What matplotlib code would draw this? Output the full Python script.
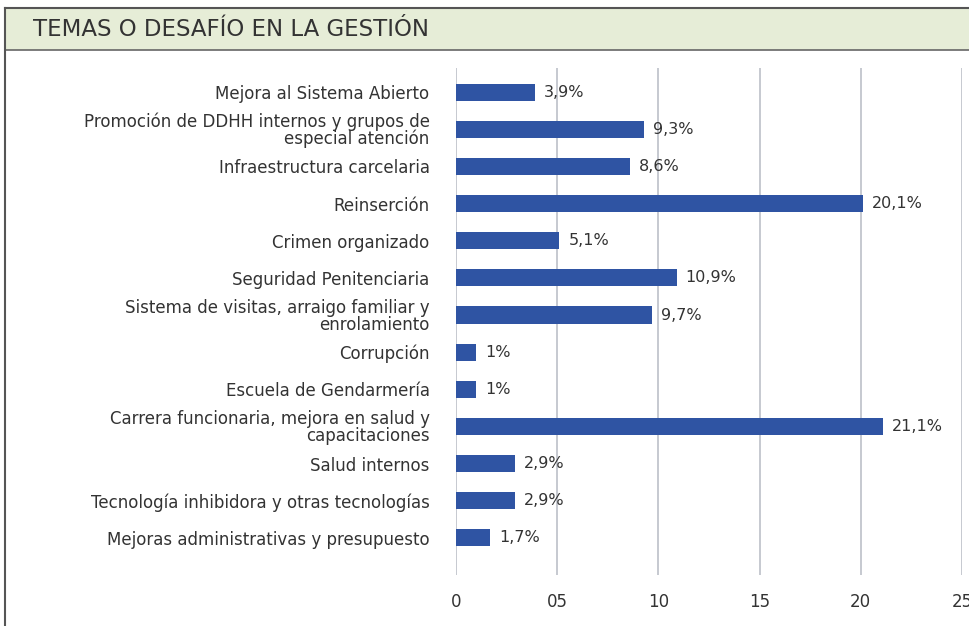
import matplotlib.pyplot as plt
from matplotlib.patches import Rectangle
from matplotlib.lines import Line2D

plt.rcParams['font.family'] = ['DejaVu Sans']

# Datos del gráfico
temas = [
    "Mejora al Sistema Abierto",
    "Promoción de DDHH internos y grupos de\nespecial atención",
    "Infraestructura carcelaria",
    "Reinserción",
    "Crimen organizado",
    "Seguridad Penitenciaria",
    "Sistema de visitas, arraigo familiar y\nenrolamiento",
    "Corrupción",
    "Escuela de Gendarmería",
    "Carrera funcionaria, mejora en salud y\ncapacitaciones",
    "Salud internos",
    "Tecnología inhibidora y otras tecnologías",
    "Mejoras administrativas y presupuesto",
]
valores = [3.9, 9.3, 8.6, 20.1, 5.1, 10.9, 9.7, 1, 1, 21.1, 2.9, 2.9, 1.7]
etiquetas = ["3,9%", "9,3%", "8,6%", "20,1%", "5,1%", "10,9%", "9,7%",
             "1%", "1%", "21,1%", "2,9%", "2,9%", "1,7%"]
xticks = [0, 5, 10, 15, 20, 25]
xtick_labels = ["0", "05", "10", "15", "20", "25"]

TEXT = '#333333'
BAR = '#2f54a3'

fig = plt.figure(figsize=(9.69, 6.26), dpi=100)

# Banda del título
fig.patches.append(Rectangle((5 / 969, 1 - 50 / 626), 1, 42 / 626,
                             transform=fig.transFigure, facecolor='#e6edd7',
                             edgecolor='none', zorder=0))
fig.lines.append(Line2D([5 / 969, 1], [1 - 8 / 626] * 2, transform=fig.transFigure,
                        color='#555555', lw=1.5))
fig.lines.append(Line2D([5 / 969, 1], [1 - 50 / 626] * 2, transform=fig.transFigure,
                        color='#666666', lw=1.2))
fig.lines.append(Line2D([5 / 969] * 2, [0, 1 - 8 / 626], transform=fig.transFigure,
                        color='#555555', lw=1.5))
fig.text(33 / 969, 1 - 30 / 626, "TEMAS O DESAFÍO EN LA GESTIÓN", fontsize=16.5,
         color=TEXT, va='center', ha='left')

ax = fig.add_axes([456 / 969, 1 - 575 / 626, 506 / 969, 507 / 626])
ys = list(range(len(temas)))
ax.barh(ys, valores, height=0.46, color=BAR, zorder=3)
for y, v, t in zip(ys, valores, etiquetas):
    ax.text(v + 0.45, y, t, va='center', ha='left', fontsize=11.5, color=TEXT, zorder=4)

ax.set_xlim(0, 25)
ax.set_ylim(13.0, -0.65)
ax.set_yticks(ys)
ax.set_yticklabels(temas, fontsize=12, color=TEXT, linespacing=0.9)
ax.set_xticks(xticks)
ax.set_xticklabels(xtick_labels, fontsize=12, color=TEXT)
ax.tick_params(axis='y', length=0, pad=19)
ax.tick_params(axis='x', length=0, pad=13)
for lbl in ax.get_yticklabels():
    lbl.set_horizontalalignment('right')
    lbl.set_multialignment('right')
ax.grid(axis='x', color='#bcc0c8', lw=1.2, zorder=0)
for s in ax.spines.values():
    s.set_visible(False)

fig.savefig('out.png', dpi=100)
